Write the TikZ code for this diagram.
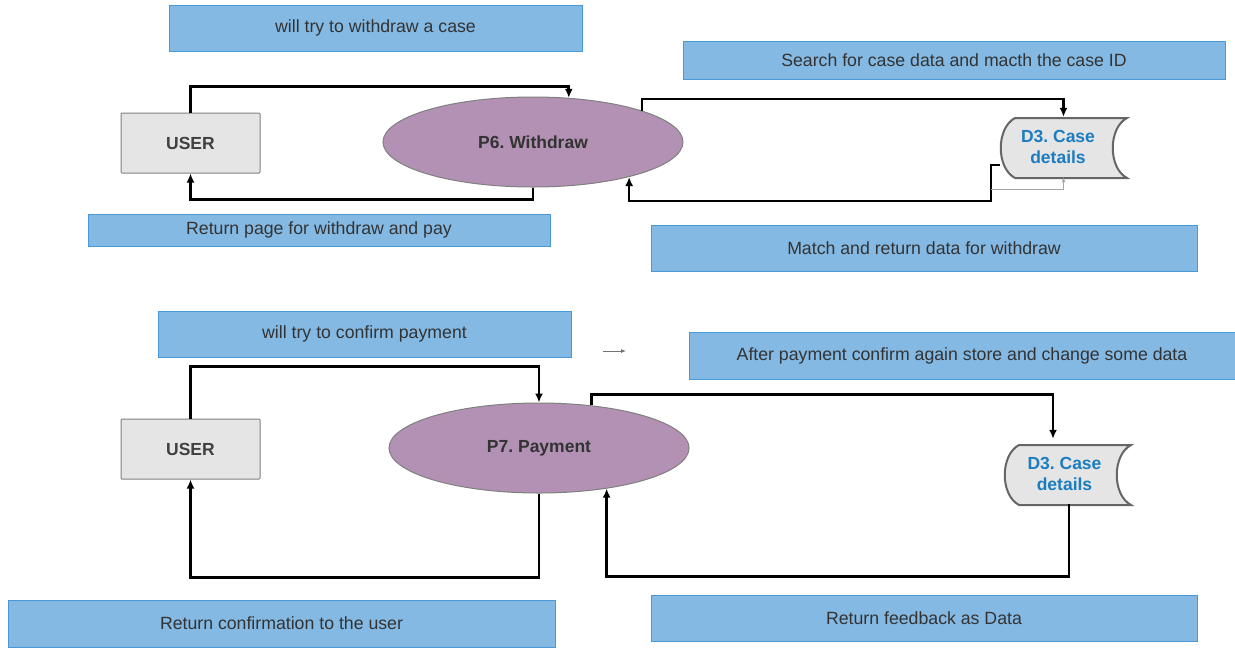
\documentclass[tikz,border=0pt]{standalone}
\usepackage{fontspec}
\setmainfont{Liberation Sans}
\frenchspacing
\usetikzlibrary{shapes.geometric,arrows.meta}
\definecolor{lblfill}{HTML}{84B9E3}
\definecolor{lbldraw}{HTML}{4A98D6}
\definecolor{procfill}{HTML}{B391B5}
\definecolor{boxfill}{HTML}{E5E5E5}
\definecolor{storetext}{HTML}{1B7DC0}
\definecolor{txt}{HTML}{333333}
\tikzset{
  lbl/.style={draw=lbldraw, line width=0.9pt, fill=lblfill, inner sep=0pt, text=txt,
    font=\fontsize{17.7}{21}\selectfont},
  userbox/.style={draw=black!50, line width=1pt, fill=boxfill, rounded corners=1pt,
    minimum width=139pt, minimum height=60pt, inner sep=0pt, text=black!75,
    font=\fontsize{17.5}{20}\selectfont\bfseries},
  proc/.style={ellipse, draw=black!50, line width=1pt, fill=procfill,
    minimum width=300pt, minimum height=90pt, inner sep=0pt, text=black!80,
    font=\fontsize{17.5}{20}\selectfont\bfseries},
  storenode/.style={minimum width=127pt, minimum height=60pt, inner sep=0pt, align=center,
    text=storetext, font=\fontsize{17.5}{21}\selectfont\bfseries},
  storeshape/.style={draw=black!60, line width=2pt, fill=boxfill},
  flow/.style={draw=black, line width=2.6pt, -{Latex[length=9pt,width=8pt]}},
  thinflow/.style={draw=black!35, line width=1pt, -{Latex[length=5pt,width=4pt]}},
}
\begin{document}
\begin{tikzpicture}[x=1pt,y=-1pt]
\useasboundingbox (0,0) rectangle (1235,649);

% labels
\node[lbl, minimum width=413pt, minimum height=46pt] (l1) at (375.5,28) {will try to withdraw a case};
\node[lbl, minimum width=542pt, minimum height=38pt] (l2) at (954,60) {Search for case data and macth the case ID};
\node[lbl, minimum width=462pt, minimum height=32pt] (l3) at (319,230) {Return page for withdraw and pay};
\node[lbl, minimum width=546pt, minimum height=46pt] (l4) at (924,248) {Match and return data for withdraw};
\node[lbl, minimum width=413pt, minimum height=46pt] (l5) at (364.5,334) {will try to confirm payment};
\node[lbl, minimum width=546pt, minimum height=47pt] (l6) at (962,355.5) {After payment confirm again store and change some data};
\node[lbl, minimum width=547pt, minimum height=47pt] (l7) at (281.5,623.5) {Return confirmation to the user};
\node[lbl, minimum width=546pt, minimum height=46pt] (l8) at (924,618) {Return feedback as Data};

% stores (shapes)
\draw[storeshape] (1015,118) -- (1127,118) .. controls (1108,128) and (1108,168) .. (1127,178)
  -- (1015,178) .. controls (996,168) and (996,128) .. (1015,118) -- cycle;
\draw[storeshape] (1019,445) -- (1131,445) .. controls (1112,455) and (1112,495) .. (1131,505)
  -- (1019,505) .. controls (1000,495) and (1000,455) .. (1019,445) -- cycle;
\node[storenode] (d3a) at (1063.5,147) {\hspace*{-11pt}D3. Case\\\hspace*{-11pt}details};
\node[storenode] (d3b) at (1067.5,474) {\hspace*{-6pt}D3. Case\\\hspace*{-6pt}details};

% entities and processes
\node[userbox] (user1) at (190.5,143) {USER};
\node[userbox] (user2) at (190.5,449) {USER};
\node[proc] (p6) at (533,142) {P6. Withdraw};
\node[proc] (p7) at (539,448) {P7. Payment};

% top flows
\draw[flow] (user1.north) -- ++(0,-26) -| (p6.51.4);
\draw[flow] (p6.south) -- ++(0,12) -| (user1.south);
\draw[flow] (p6.16.4) -- ++(0,-11.5) -| (d3a.north);
\draw[flow] ([yshift=-18pt]d3a.west) -| (991,201) -| (p6.-20.1);
\coordinate (g1) at (991,189);
\draw[thinflow] (g1) -| (d3a.south);

% bottom flows
\draw[flow] (user2.north) -- ++(0,-52) -| (p7.north);
\draw[flow] (p7.39.7) -- ++(0,-10.7) -| ([xshift=-14.5pt,yshift=5pt]d3b.north);
\draw[flow] ([xshift=1.5pt]d3b.south) -- ++(0,72) -| (p7.-31.5);
\draw[flow] (p7.south) -- ++(0,84) -| (user2.south);

\coordinate (s1) at (603,351);
\coordinate (s2) at (626,351);
\draw[thinflow, draw=black!55, line width=0.8pt] (s1) -- (s2);
\end{tikzpicture}
\end{document}
